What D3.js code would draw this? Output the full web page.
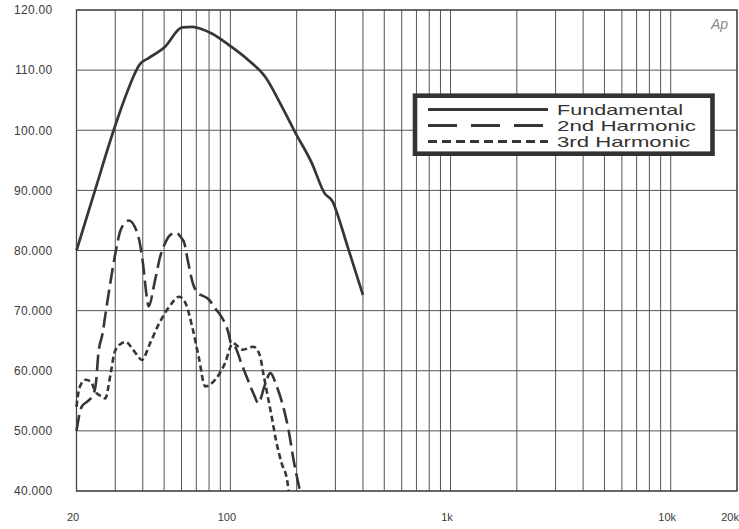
<!DOCTYPE html>
<html><head><meta charset="utf-8">
<script src="https://cdn.jsdelivr.net/npm/d3@7"></script>
<style>html,body{margin:0;padding:0;background:#fff;} svg{display:block;}</style>
</head><body>
<svg id="chart" width="739" height="529"></svg>
<script>
// ---- data ----
const yTickValues = [40, 50, 60, 70, 80, 90, 100, 110, 120];
const yTickLabels = ["40.000", "50.000", "60.000", "70.000", "80.000", "90.000", "100.00", "110.00", "120.00"];
const xTickValues = [20, 100, 1000, 10000, 20000];
const xTickLabels = ["20", "100", "1k", "10k", "20k"];

const seriesNames = ["Fundamental", "2nd Harmonic", "3rd Harmonic"];

const fundFreq  = [20, 24.5, 29.5, 32.9, 39, 42.5, 50.5, 60.3, 67.1, 74.3, 82.3, 100, 120.4, 143.9, 171.6, 198, 234.6, 268, 292, 302, 341, 400];
const fundLevel = [80, 90.5, 100, 105, 111.1, 112, 113.9, 117.1, 117.2, 116.8, 116.1, 114, 111.7, 108.9, 103.9, 99.5, 94.5, 89.5, 88.1, 86.7, 80.6, 72.6];

const h2Freq  = [20, 21.1, 22.6, 23.8, 24.6, 25.1, 26.3, 27.1, 28.6, 30.2, 31.8, 34.6, 38.2, 39.9, 41.9, 42.5, 45.5, 48, 50.5, 53, 56.6, 59.3, 61.8, 64, 67.6, 71.5, 74.5, 79.6, 85.5, 91, 98, 100.5, 106, 112, 120, 128, 134, 143, 152, 162, 173, 184, 194, 207];
const h2Level = [50, 54, 55, 56, 58.5, 62.6, 66.3, 69.5, 75, 80, 83.5, 85, 82.3, 78.4, 71.8, 70.7, 75.1, 79, 81.2, 82.5, 83, 82.3, 81.2, 78.4, 74.5, 72.8, 72.5, 71.9, 70.3, 69, 66.3, 64.6, 63.7, 61.3, 58.5, 56, 54.6, 57.5, 59.6, 57.5, 54.3, 50, 45, 40];

const h3Freq  = [20, 20.6, 22, 23.2, 24.4, 26.1, 27, 28.6, 29.7, 31.1, 33.5, 35.3, 37.7, 39.6, 43.2, 47.5, 52.9, 58.5, 62.6, 67.1, 71.8, 76.9, 85.2, 94.4, 102.7, 114, 127, 136, 141, 149, 155, 161, 171, 181, 184];
const h3Level = [54, 57.1, 58.5, 58.2, 56.5, 55.7, 55.4, 59.6, 62.9, 64.2, 64.8, 64, 62.6, 61.8, 64.6, 67.9, 70.7, 72.3, 71.2, 67.3, 62.3, 57.4, 58.5, 61.2, 64.6, 63.5, 64, 62.6, 59.6, 55.1, 51.8, 48.5, 44.6, 41.8, 40];

// ---- chart ----
const svg = d3.select("#chart");
const W = 739, H = 529;
const m = {left: 76.5, right: 2, top: 10, bottom: 38};
const x = d3.scaleLog().domain([20, 20000]).range([m.left, W - m.right]);
const y = d3.scaleLinear().domain([40, 120]).range([H - m.bottom, m.top]);

const ink = "#363636";
const gridCol = "#555";
const font = "'Liberation Sans', Arial, Helvetica, sans-serif";

svg.append("rect").attr("width", W).attr("height", H).attr("fill", "#fff");

// grid
const grid = svg.append("g");
grid.selectAll("line.v").data(x.ticks()).join("line")
  .attr("x1", d => x(d)).attr("x2", d => x(d))
  .attr("y1", y(120)).attr("y2", y(40))
  .attr("stroke", gridCol).attr("stroke-width", 1);
grid.selectAll("line.h").data(yTickValues).join("line")
  .attr("x1", x(20)).attr("x2", x(20000))
  .attr("y1", d => y(d)).attr("y2", d => y(d))
  .attr("stroke", gridCol).attr("stroke-width", 1);
grid.append("rect")
  .attr("x", x(20)).attr("y", y(120))
  .attr("width", x(20000) - x(20)).attr("height", y(40) - y(120))
  .attr("fill", "none").attr("stroke", "#444").attr("stroke-width", 1.3);

// axes
const yAxis = d3.axisLeft(y).tickValues(yTickValues)
  .tickFormat((d, i) => yTickLabels[i]).tickSize(0).tickPadding(24);
const gy = svg.append("g").attr("transform", `translate(${x(20)},0)`).call(yAxis);
gy.select(".domain").remove();
gy.selectAll("text").attr("font-family", font).attr("font-size", 12)
  .attr("fill", "#3a3a3a").attr("letter-spacing", 0.3);

const xAxis = d3.axisBottom(x).tickValues(xTickValues)
  .tickFormat((d, i) => xTickLabels[i]).tickSize(0).tickPadding(22);
const gx = svg.append("g").attr("transform", `translate(0,${y(40)})`).call(xAxis);
gx.select(".domain").remove();
gx.selectAll("text").attr("font-family", font).attr("font-size", 11)
  .attr("fill", "#3a3a3a").attr("dx", -4);
// keep the last label inside the page
gx.selectAll(".tick").filter(d => d === 20000).select("text")
  .attr("text-anchor", "end").attr("dx", 1.5);

// curves
const line = d3.line().x(d => x(d[0])).y(d => y(d[1])).curve(d3.curveMonotoneX);
const zip = (a, b) => a.map((f, i) => [f, b[i]]);

const series = [
  {name: seriesNames[0], data: zip(fundFreq, fundLevel), dash: null, w: 2.7},
  {name: seriesNames[1], data: zip(h2Freq, h2Level), dash: "16,6", w: 2.6},
  {name: seriesNames[2], data: zip(h3Freq, h3Level), dash: "6,3.5", w: 2.6}
];
svg.append("g").selectAll("path").data(series).join("path")
  .attr("d", d => line(d.data))
  .attr("fill", "none").attr("stroke", ink)
  .attr("stroke-width", d => d.w)
  .attr("stroke-dasharray", d => d.dash)
  .attr("stroke-linejoin", "round");

// legend
const legendDash = [null, "29,14", "9,5"];
const lg = svg.append("g");
lg.append("rect").attr("x", 415).attr("y", 95.7).attr("width", 297.5).attr("height", 58)
  .attr("fill", "#fff").attr("stroke", "#333").attr("stroke-width", 4.6);
const textLens = [126, 139, 133];
seriesNames.forEach((n, i) => {
  const yy = 109.5 + i * 16;
  lg.append("line").attr("x1", 428).attr("x2", 548).attr("y1", yy).attr("y2", yy)
    .attr("stroke", ink).attr("stroke-width", 3)
    .attr("stroke-dasharray", legendDash[i]);
  lg.append("text").attr("x", 557).attr("y", yy + 5.5)
    .attr("font-family", font).attr("font-size", 14.5).attr("fill", "#333")
    .attr("textLength", textLens[i]).attr("lengthAdjust", "spacingAndGlyphs")
    .text(n);
});

// Ap mark
svg.append("text").attr("x", 728).attr("y", 29).attr("text-anchor", "end")
  .attr("font-family", font).attr("font-style", "italic").attr("font-size", 14)
  .attr("fill", "#8a8a8a").text("Ap");
</script>
</body></html>
